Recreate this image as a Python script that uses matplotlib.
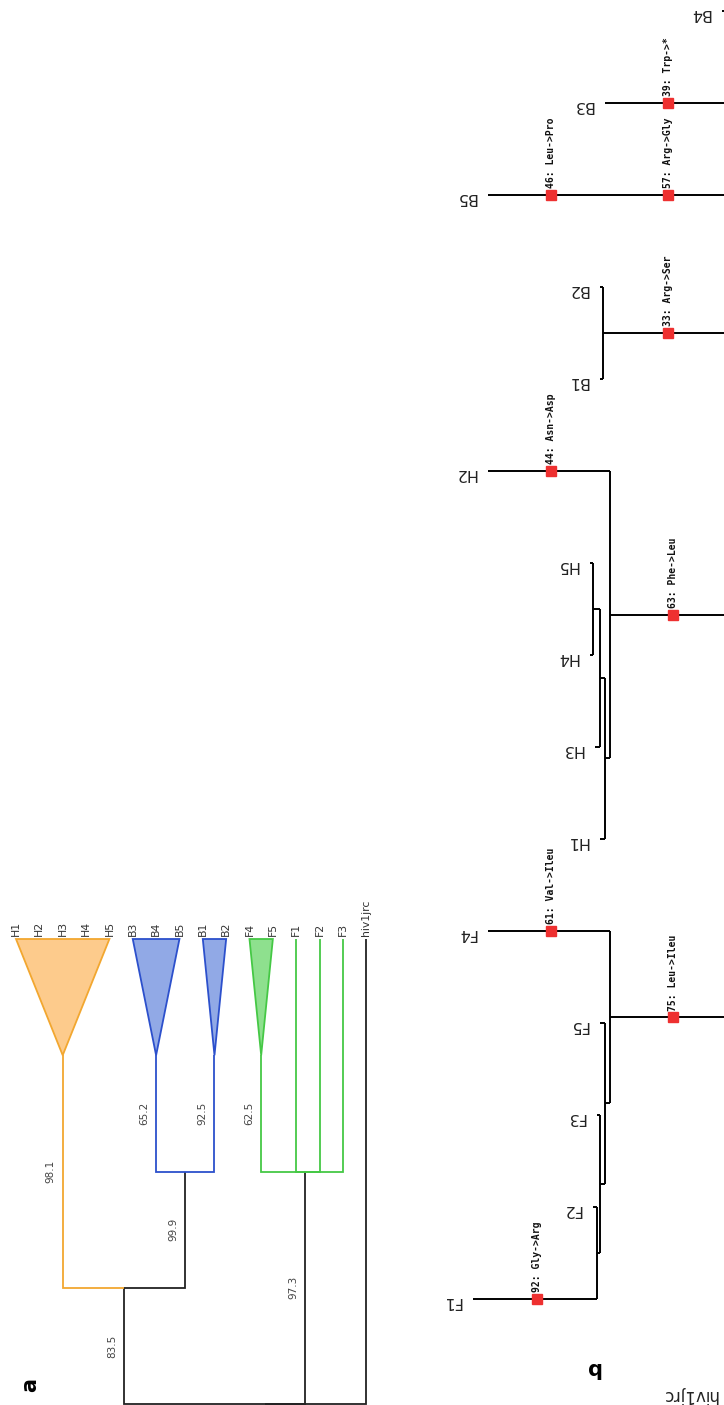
import matplotlib
matplotlib.use("Agg")
import matplotlib.pyplot as plt
import numpy as np

# --- panel a: cladogram with collapsed clades (leaf order left -> right) ---
leaves_a = ["H1", "H2", "H3", "H4", "H5", "B3", "B4", "B5", "B1", "B2",
            "F4", "F5", "F1", "F2", "F3", "hiv1jrc"]

# collapsed clades: name -> (leaves, colour key)
clades_a = {
    "H": (["H1", "H2", "H3", "H4", "H5"], "orange"),
    "B345": (["B3", "B4", "B5"], "blue"),
    "B12": (["B1", "B2"], "blue"),
    "F45": (["F4", "F5"], "green"),
}
# internal nodes: name -> (level, children, colour of its own stem)
nodes_a = {
    "root": (0, ["HB", "F", "hiv1jrc"], "black"),
    "HB": (1, ["H", "B"], "black"),
    "B": (2, ["B345", "B12"], "black"),
    "F": (2, ["F45", "F1", "F2", "F3"], "black"),
}
apex_level = 3
tip_level = 4
leaf_colour_a = {"F1": "green", "F2": "green", "F3": "green", "hiv1jrc": "black"}
bootstrap_a = {"H": 98.1, "B345": 65.2, "B12": 92.5, "B": 99.9,
               "F45": 62.5, "F": 97.3, "HB": 83.5}

edge_col = {"orange": "#F2A730", "blue": "#2C50CC", "green": "#45C845", "black": "#222222"}
fill_col = {"orange": "#FDCB8C", "blue": "#91A9E6", "green": "#8EE08E"}

# --- panel b: phylogram with mutations (root off to the right) ---
leaves_b = ["B4", "B3", "B5", "B2", "B1", "H2", "H5", "H4", "H3", "H1",
            "F4", "F5", "F3", "F2", "F1", "hiv1jrc"]
# child -> (parent, branch length)
edges_b = {
    "hiv1jrc": ("root", 0.068), "ING": ("root", 0.020),
    "Bn": ("ING", 0.025), "HF": ("ING", 0.025),
    "B4": ("Bn", 0.023), "B3": ("Bn", 0.140), "B5": ("Bn", 0.257), "B12": ("Bn", 0.142),
    "B2": ("B12", 0.003), "B1": ("B12", 0.003),
    "Hn": ("HF", 0.135), "Fn": ("HF", 0.135),
    "H2": ("Hn", 0.122), "Hc": ("Hn", 0.005),
    "Hb": ("Hc", 0.005), "H1": ("Hc", 0.005),
    "Ha": ("Hb", 0.007), "H3": ("Hb", 0.005),
    "H5": ("Ha", 0.003), "H4": ("Ha", 0.003),
    "F4": ("Fn", 0.122), "Fx": ("Fn", 0.005),
    "F5": ("Fx", 0.005), "Fy": ("Fx", 0.005),
    "F3": ("Fy", 0.003), "Fz": ("Fy", 0.003),
    "F2": ("Fz", 0.004), "F1": ("Fz", 0.124),
}
# mutations: (branch child, distance from child end, label)
mutations_b = [
    ("B5", 0.063, "46: Leu->Pro"), ("B5", 0.180, "57: Arg->Gly"),
    ("B3", 0.063, "39: Trp->*"), ("B12", 0.065, "33: Arg->Ser"),
    ("H2", 0.063, "44: Asn->Asp"), ("Hn", 0.063, "63: Phe->Leu"),
    ("F4", 0.063, "61: Val->Ileu"), ("Fn", 0.063, "75: Leu->Ileu"),
    ("F1", 0.064, "92: Gly->Arg"),
]

W, H = 724, 1405
fig = plt.figure(figsize=(W / 100, H / 100), dpi=100)


def fig_box(x0, y0, x1, y1):
    return [x0 / W, 1 - y1 / H, (x1 - x0) / W, (y1 - y0) / H]


# ---------------- panel a ----------------
ax_a = fig.add_axes(fig_box(0, 880, 400, 1405))
ax_a.set_xlim(-16 / 23.35, (400 - 16) / 23.35)
ax_a.set_ylim((1404 - 1405) / 116.25, (1404 - 880) / 116.25)
ax_a.axis("off")
idx_a = {n: i for i, n in enumerate(leaves_a)}


def pos_a(name):
    if name in clades_a:
        return np.mean([idx_a[l] for l in clades_a[name][0]]), apex_level
    if name in nodes_a:
        lvl, kids, _ = nodes_a[name]
        return np.mean([pos_a(k)[0] for k in kids]), lvl
    return idx_a[name], tip_level


def colour_a(name):
    if name in clades_a:
        return clades_a[name][1]
    if name in nodes_a:
        return nodes_a[name][2]
    return leaf_colour_a[name]


lw_a = 1.3
for name, (lvl, kids, _) in nodes_a.items():
    px, py = pos_a(name)
    for k in kids:
        kx, ky = pos_a(k)
        c = edge_col[colour_a(k)]
        ax_a.plot([px, kx, kx], [py, py, ky], color=c, lw=lw_a,
                  solid_capstyle="butt", solid_joinstyle="miter", clip_on=False)
        if k in bootstrap_a:
            ax_a.text(kx - 0.3, (py + ky) / 2, f"{bootstrap_a[k]:.1f}", rotation=90,
                      ha="right", va="center", fontsize=7.5, color="#444444")

for name, (lv, ck) in clades_a.items():
    xs = [idx_a[l] for l in lv]
    ax_, ay_ = pos_a(name)
    ax_a.fill([ax_, min(xs), max(xs)], [ay_, tip_level, tip_level],
              facecolor=fill_col[ck], edgecolor=edge_col[ck], lw=lw_a)

for name in leaves_a:
    ax_a.annotate(name, (idx_a[name], tip_level), xytext=(0, 2.5),
                  textcoords="offset points", rotation=90, ha="center", va="bottom",
                  fontsize=7.8, color="#333333")

fig.text(30 / W, 1 - 1385 / H, "a", rotation=90, ha="center", va="center",
         fontsize=15, fontweight="bold")

# ---------------- panel b ----------------
ax_b = fig.add_axes(fig_box(420, 0, 724, 1405))
ax_b.set_xlim((790 - 420) / 1000, (790 - 724) / 1000)
ax_b.set_ylim((1405 - 11) / 92, -11 / 92)
ax_b.axis("off")

children_b = {}
for c, (p, _) in edges_b.items():
    children_b.setdefault(p, []).append(c)

depth_b = {"root": 0.0}


def depth(name):
    if name not in depth_b:
        p, bl = edges_b[name]
        depth_b[name] = depth(p) + bl
    return depth_b[name]


ypos_b = {n: i for i, n in enumerate(leaves_b)}


def ypos(name):
    if name not in ypos_b:
        ys = [ypos(k) for k in children_b[name]]
        ypos_b[name] = (min(ys) + max(ys)) / 2
    return ypos_b[name]


lw_b = 1.4
for child, (parent, bl) in edges_b.items():
    if child == "hiv1jrc":
        continue
    ax_b.plot([depth(parent), depth(child)], [ypos(child), ypos(child)],
              color="black", lw=lw_b, solid_capstyle="butt")
for parent, kids in children_b.items():
    ys = [ypos(k) for k in kids if k != "hiv1jrc"]
    ax_b.plot([depth(parent), depth(parent)], [min(ys), max(ys)],
              color="black", lw=lw_b, solid_capstyle="butt")

for child, dist, label in mutations_b:
    mx = depth(child) - dist
    my = ypos(child)
    ax_b.plot(mx, my, marker="s", ms=6.5, color="#EE3030", mec="#EE3030", zorder=5)
    ax_b.annotate(label, (mx, my), xytext=(0, 4.8), textcoords="offset points",
                  rotation=90, ha="center", va="bottom", fontsize=7,
                  family="DejaVu Sans Mono", fontweight="bold", color="#111111")

for name in leaves_b:
    big = name == "hiv1jrc"
    ax_b.annotate(name, (depth(name), ypos(name)),
                  xytext=(-3 if big else -8.5, -3 if big else -2),
                  textcoords="offset points", rotation=180, ha="right", va="center",
                  fontsize=12 if big else 11.5, color="#222222", annotation_clip=False)

fig.text(593 / W, 1 - 1368 / H, "b", rotation=180, ha="center", va="center",
         fontsize=15, fontweight="bold")

fig.savefig("out.png", dpi=100, facecolor="white")
